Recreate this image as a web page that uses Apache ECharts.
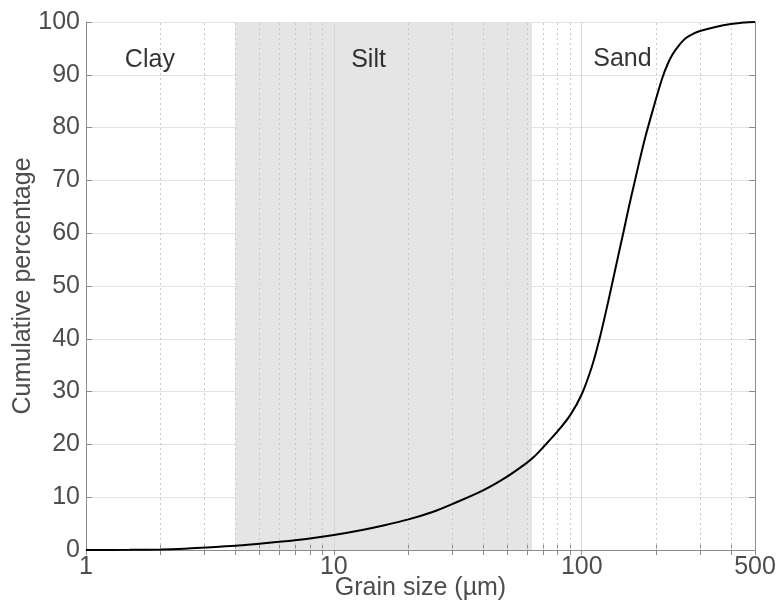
<!DOCTYPE html>
<html>
<head>
<meta charset="utf-8">
<script src="https://cdn.jsdelivr.net/npm/echarts@6/dist/echarts.min.js"></script>
<style>
  html, body { margin: 0; padding: 0; background: #fff; }
  #chart { width: 784px; height: 603px; }
</style>
</head>
<body>
<div id="chart"></div>
<script>
  const grainSizes = [1, 1.5, 2, 2.5, 3, 4, 5, 6, 8, 10, 13, 16, 20, 25, 30, 40, 50, 60, 64, 70, 80, 90, 100,
    110, 118, 125, 132, 140, 147, 155, 164, 171, 180, 194, 211, 222, 232, 245, 264, 285, 300, 350, 400, 450, 500];
  const cumulative = [0, 0.03, 0.1, 0.25, 0.45, 0.8, 1.2, 1.55, 2.2, 2.85, 3.8, 4.7, 5.8, 7.2, 8.7, 11.3, 13.9, 16.5, 17.6, 19.5, 22.5, 25.6, 29.5,
    34.8, 40, 45, 50, 55.5, 60, 65, 70, 73.7, 78, 83.5, 89.3, 92, 93.8, 95.4, 97, 97.9, 98.3, 99.1, 99.6, 99.9, 100];
  const xLabelValues = [1, 10, 100, 500];
  const minorTicks = [2, 3, 4, 5, 6, 7, 8, 9, 20, 30, 40, 50, 60, 70, 80, 90, 200, 300, 400];
  const majorTicks = [10, 100];
  const siltRange = [4, 63];
  const zoneNames = ["Clay", "Silt", "Sand"];
  const zoneSpots = [[1.81, 92.8], [13.8, 92.8], [146, 93]];

  const font = '"Liberation Sans", Arial, Helvetica, sans-serif';
  const axisGray = "#8c8c8c";
  const textGray = "#4d4d4d";
  const allTicks = [1].concat(minorTicks.slice(0, 8), [10], minorTicks.slice(8, 16), [100], minorTicks.slice(16), [500]);

  const chart = echarts.init(document.getElementById("chart"), null, { renderer: "canvas" });

  const xBase = {
    type: "log", logBase: 10, min: 1, max: 500, z: 3,
    axisLine: { show: true, lineStyle: { color: axisGray, width: 1 } },
    axisTick: { show: true, inside: true, length: 5, customValues: allTicks, lineStyle: { color: axisGray } },
    splitLine: { show: false }
  };
  const yBase = {
    type: "value", min: 0, max: 100, interval: 10, z: 3,
    axisLine: { show: true, lineStyle: { color: axisGray, width: 1 } },
    axisTick: { show: true, inside: true, length: 6, lineStyle: { color: axisGray } }
  };

  chart.setOption({
    animation: false,
    grid: { left: 86, right: 29, top: 22, bottom: 53, containLabel: false, outerBoundsMode: "none" },
    xAxis: [
      Object.assign({}, xBase, {
        position: "bottom",
        axisLabel: { customValues: xLabelValues, fontSize: 25, color: textGray, fontFamily: font, margin: 5 },
        name: "Grain size (µm)", nameLocation: "middle", nameGap: 26, nameMoveOverlap: false,
        nameTextStyle: { fontSize: 25, color: textGray, fontFamily: font }
      }),
      Object.assign({}, xBase, { position: "top", axisLabel: { show: false } })
    ],
    yAxis: [
      Object.assign({}, yBase, {
        position: "left",
        axisLabel: { fontSize: 25, color: textGray, fontFamily: font, margin: 6 },
        splitLine: { show: true, lineStyle: { color: "#e2e2e2", width: 1 } },
        name: "Cumulative percentage", nameLocation: "middle", nameGap: 50, nameMoveOverlap: false,
        nameTextStyle: { fontSize: 25, color: textGray, fontFamily: font }
      }),
      Object.assign({}, yBase, { position: "right", axisLabel: { show: false }, splitLine: { show: false } })
    ],
    series: [
      {
        type: "line", xAxisIndex: 0, yAxisIndex: 0, data: [], silent: true,
        markArea: {
          silent: true, z: 1,
          itemStyle: { color: "#e5e5e5" },
          data: [[{ xAxis: siltRange[0] }, { xAxis: siltRange[1] }]]
        },
        markLine: {
          silent: true, z: 4, symbol: "none", label: { show: false },
          data: minorTicks.map(v => ({ xAxis: v, lineStyle: { color: "#c9c9c9", type: [2, 3], width: 1 } }))
            .concat(majorTicks.map(v => ({ xAxis: v, lineStyle: { color: "#d8d8d8", type: "solid", width: 1 } })))
        }
      },
      {
        type: "line", name: "Cumulative", z: 10,
        data: grainSizes.map((g, i) => [g, cumulative[i]]),
        smooth: 0.3, showSymbol: false, symbol: "none",
        lineStyle: { color: "#000", width: 2 }
      },
      {
        type: "scatter", z: 11, symbolSize: 0, silent: true,
        data: zoneSpots.map((p, i) => ({ value: p, name: zoneNames[i] })),
        label: { show: true, position: "inside", formatter: "{b}", fontSize: 25, color: "#000", textBorderWidth: 0, fontFamily: font }
      }
    ]
  });
</script>
</body>
</html>
